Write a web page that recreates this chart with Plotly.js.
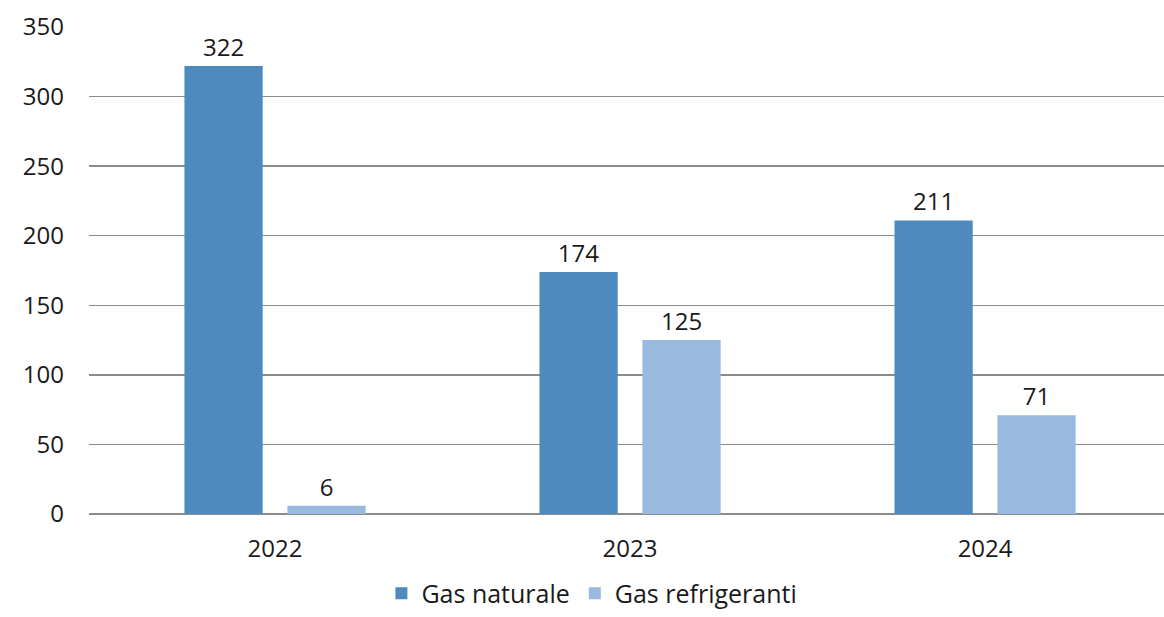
<!DOCTYPE html>
<html><head><meta charset="utf-8">
<script src="https://cdn.plot.ly/plotly-3.0.1.min.js"></script>
<style>html,body{margin:0;padding:0;background:#fff}</style>
</head><body>
<div id="chart" style="width:1164px;height:617px"></div>
<script>
const years = ["2022", "2023", "2024"];
const gasNaturale = [322, 174, 211];
const gasRefrigeranti = [6, 125, 71];
const yTicks = [0, 50, 100, 150, 200, 250, 300, 350];

const fontFam = '"Open Sans", "Noto Sans", sans-serif';
const traces = [
  {type: 'bar', name: 'Gas naturale', x: years, y: gasNaturale,
   marker: {color: '#4F8ABE'}, text: gasNaturale.map(String), textposition: 'outside',
   cliponaxis: false, textfont: {size: 24, color: '#1a1a1a', family: fontFam}, hoverinfo: 'x+y'},
  {type: 'bar', name: 'Gas refrigeranti', x: years, y: gasRefrigeranti,
   marker: {color: '#99B9DF'}, text: gasRefrigeranti.map(String), textposition: 'outside',
   cliponaxis: false, textfont: {size: 24, color: '#1a1a1a', family: fontFam}, hoverinfo: 'x+y'}
];
const layout = {
  width: 1164, height: 617,
  margin: {l: 89, r: 0, t: 27, b: 103, autoexpand: false},
  paper_bgcolor: '#fff', plot_bgcolor: '#fff',
  font: {family: fontFam, size: 24, color: '#1a1a1a'},
  barmode: 'group', bargap: 0.42, bargroupgap: 0.24,
  xaxis: {type: 'category', range: [-0.524, 2.504], showgrid: false, zeroline: false,
          showline: false, ticks: '', ticklabelstandoff: 18, tickfont: {size: 24}, automargin: false},
  yaxis: {range: [0, 350], tickvals: yTicks, ticktext: yTicks.map(String),
          showgrid: true, gridcolor: '#8c8c8c', gridwidth: 1.3, zeroline: true,
          zerolinecolor: '#8c8c8c', zerolinewidth: 1.3, showline: false, ticks: '',
          ticklabelstandoff: 24, tickfont: {size: 24}, automargin: false},
  showlegend: true,
  legend: {orientation: 'h', x: 0.272, xanchor: 'left', yref: 'container', y: 0.038, yanchor: 'middle',
           font: {size: 25}, itemwidth: 30, traceorder: 'normal'}
};
Plotly.newPlot('chart', traces, layout, {displayModeBar: false, staticPlot: true});
</script>
</body></html>
